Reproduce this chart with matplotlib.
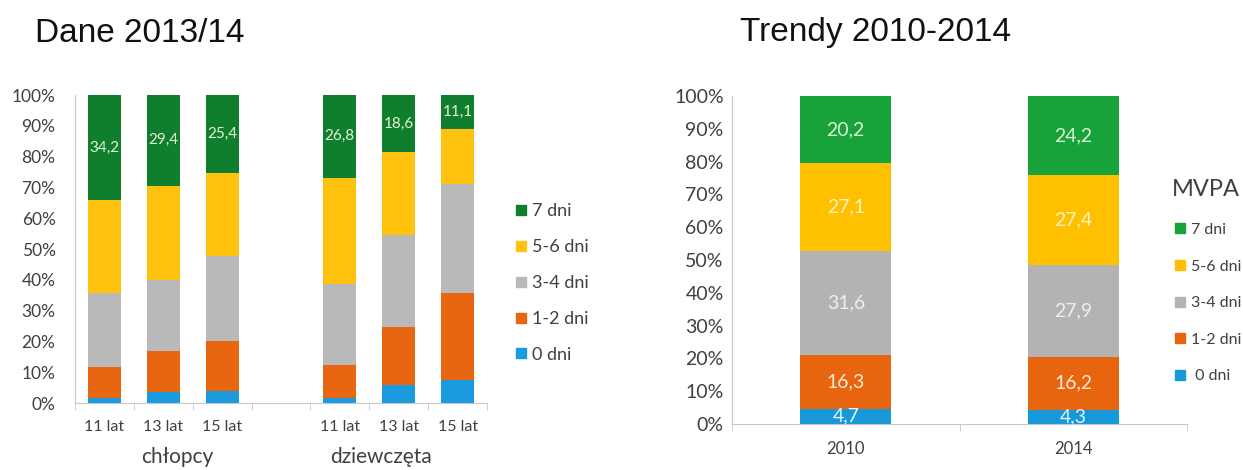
import numpy as np
import matplotlib.pyplot as plt
from matplotlib.lines import Line2D

plt.rcParams['font.family'] = ['Lato', 'DejaVu Sans']

# left chart: Dane 2013/14 (shares in %, from bottom to top)
groups = ['11 lat', '13 lat', '15 lat', '', '11 lat', '13 lat', '15 lat']
left_pos = [0, 1, 2, 4, 5, 6]
left_0 = [1.5, 3.5, 4.0, 1.5, 5.8, 7.5]
left_12 = [10.3, 13.5, 16.2, 10.8, 19.0, 28.1]
left_34 = [24.0, 22.9, 27.6, 26.3, 29.7, 35.5]
left_56 = [30.0, 30.7, 26.8, 34.6, 26.9, 17.8]
left_7 = [34.2, 29.4, 25.4, 26.8, 18.6, 11.1]

# right chart: Trendy 2010-2014
years = ['2010', '2014']
right_0 = [4.7, 4.3]
right_12 = [16.3, 16.2]
right_34 = [31.6, 27.9]
right_56 = [27.1, 27.4]
right_7 = [20.2, 24.2]

cat_names = ['0 dni', '1-2 dni', '3-4 dni', '5-6 dni', '7 dni']
left_colors = ['#1a9be0', '#e8660f', '#b9b9b9', '#ffc20e', '#0f7f2e']
right_colors = ['#1798d8', '#e7650e', '#b3b3b3', '#ffc000', '#17a23a']
txt = '#404040'
axis_col = '#c8c8c8'
W, H = 1243, 470


def style_axes(ax, n, fs, pad):
    ax.set_ylim(0, 100)
    ax.set_yticks(np.arange(0, 101, 10))
    ax.set_yticklabels([f'{v}%' for v in range(0, 101, 10)], fontsize=fs, color=txt)
    ax.set_xlim(-0.5, n - 0.5)
    ax.set_xticks(np.arange(-0.5, n, 1.0), minor=True)
    for s in ['top', 'right']:
        ax.spines[s].set_visible(False)
    for s in ['left', 'bottom']:
        ax.spines[s].set_color(axis_col)
    ax.tick_params(axis='y', length=0, pad=pad)
    ax.tick_params(axis='x', which='major', length=0, pad=12)
    ax.tick_params(axis='x', which='minor', length=5, color=axis_col, direction='out')


fig = plt.figure(figsize=(W / 100, H / 100), dpi=100)

# ---- left
ax1 = fig.add_axes([75 / W, 67 / H, 412 / W, 308 / H])
series = [left_0, left_12, left_34, left_56, left_7]
bottom = np.zeros(len(left_pos))
for vals, col in zip(series, left_colors):
    ax1.bar(left_pos, vals, width=0.56, bottom=bottom, color=col)
    bottom += np.array(vals)
for x, v in zip(left_pos, left_7):
    ax1.text(x, 100 - v / 2, f'{v}'.replace('.', ','), ha='center', va='center',
             fontsize=11, color='#e4f2d6')
style_axes(ax1, 7, 12.5, 14)
ax1.set_xticks(range(7))
ax1.set_xticklabels(groups, fontsize=11.5, color=txt)

fig.text(35 / W, 1 - 33 / H, 'Dane 2013/14', fontsize=24, family='Liberation Sans',
         va='center', ha='left', color='#111111')
fig.text(177 / W, 1 - 457 / H, 'chłopcy', fontsize=15, ha='center', va='center', color=txt)
fig.text(381 / W, 1 - 457 / H, 'dziewczęta', fontsize=15, ha='center', va='center', color=txt)

h1 = [Line2D([], [], marker='s', ls='', color=c, markersize=7) for c in left_colors[::-1]]
fig.legend(h1, cat_names[::-1], loc='center left', bbox_to_anchor=(512 / W, 1 - 283 / H),
           bbox_transform=fig.transFigure, borderpad=0, borderaxespad=0,
           frameon=False, fontsize=13, labelspacing=1.1, handletextpad=0.1,
           labelcolor=txt, handlelength=1.0)

# ---- right
ax2 = fig.add_axes([732 / W, 46 / H, 455 / W, 328 / H])
series = [right_0, right_12, right_34, right_56, right_7]
label_cols = ['#e4f3ff', '#fde8da', '#efefef', '#fff3c8', '#def3d6']
xr = np.arange(len(years))
bottom = np.zeros(len(years))
for vals, col, lc in zip(series, right_colors, label_cols):
    ax2.bar(xr, vals, width=0.4, bottom=bottom, color=col)
    for x, b, v in zip(xr, bottom, vals):
        ax2.text(x, b + v / 2, f'{v}'.replace('.', ','), ha='center', va='center',
                 fontsize=14, color=lc)
    bottom += np.array(vals)
style_axes(ax2, 2, 14, 6)
ax2.set_xticks(xr)
ax2.set_xticklabels(years, fontsize=12, color=txt)

fig.text(740 / W, 1 - 33 / H, 'Trendy 2010-2014', fontsize=24, family='Liberation Sans',
         va='center', ha='left', color='#111111')
fig.text(1172 / W, 1 - 190 / H, 'MVPA', fontsize=17, ha='left', va='center', color=txt)

h2 = [Line2D([], [], marker='s', ls='', color=c, markersize=7) for c in right_colors[::-1]]
fig.legend(h2, ['7 dni', '5-6 dni', '3-4 dni', '1-2 dni', ' 0 dni'],
           loc='center left', bbox_to_anchor=(1172 / W, 1 - 303 / H),
           bbox_transform=fig.transFigure, borderpad=0, borderaxespad=0,
           frameon=False, fontsize=11.5, labelspacing=1.4, handletextpad=0.2,
           labelcolor=txt, handlelength=1.0)

fig.savefig('out.png', dpi=100)
